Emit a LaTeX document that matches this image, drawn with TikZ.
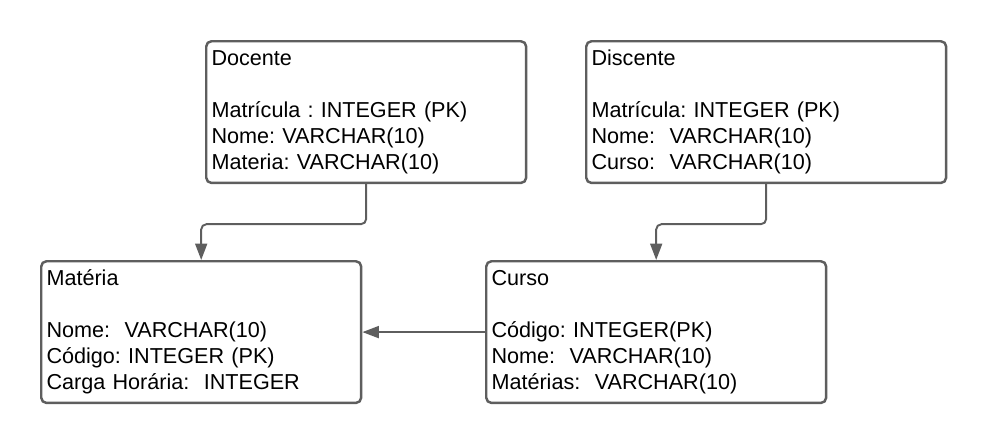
\documentclass[tikz,border=0pt]{standalone}
\usepackage{fontspec}
\setmainfont[WordSpace=0.9]{Liberation Sans}
\frenchspacing
\usetikzlibrary{arrows.meta}
\definecolor{linegray}{RGB}{94,94,94}

\begin{document}
\begin{tikzpicture}[x=0.02cm,y=-0.02cm,
  entity/.style={draw=linegray, line width=1.4pt, rounded corners=3pt,
    anchor=north west, align=left, minimum height=2.8cm, inner xsep=3pt,
    text width=#1-6pt, font=\fontsize{12.3}{14.8}\selectfont},
  link/.style={draw=linegray, line width=1.1pt, rounded corners=3pt,
    -{Triangle[length=0.33cm,width=0.24cm]}}]
  \useasboundingbox (0,0) rectangle (985,440);
  % tabelas
  \node[entity=6.4cm] (doc) at (205,40) {\strut Docente\\ \strut\\
    \strut Matrícula : INTEGER (PK)\\ \strut Nome: VARCHAR(10)\\
    \strut Materia: VARCHAR(10)};
  \node[entity=7.2cm] (dis) at (585,40) {\strut Discente\\ \strut\\
    \strut Matrícula: INTEGER (PK)\\ \strut Nome:\ \ VARCHAR(10)\\
    \strut Curso:\ \ VARCHAR(10)};
  \node[entity=6.4cm] (mat) at (40,260) {\strut Matéria\\ \strut\\
    \strut Nome:\ \ VARCHAR(10)\\ \strut Código: INTEGER (PK)\\
    \strut Carga Horária:\ \ INTEGER};
  \node[entity=6.8cm] (cur) at (485,260) {\strut Curso\\ \strut\\
    \strut Código: INTEGER(PK)\\ \strut Nome:\ \ VARCHAR(10)\\
    \strut Matérias:\ \ VARCHAR(10)};
  % ligacoes
  \draw[link] (doc.south) -- ++(0,40) -| (mat.north);
  \draw[link] (dis.south) -- ++(0,40) -| (cur.north);
  \draw[link] (cur.west) -- (mat.east);
\end{tikzpicture}
\end{document}
